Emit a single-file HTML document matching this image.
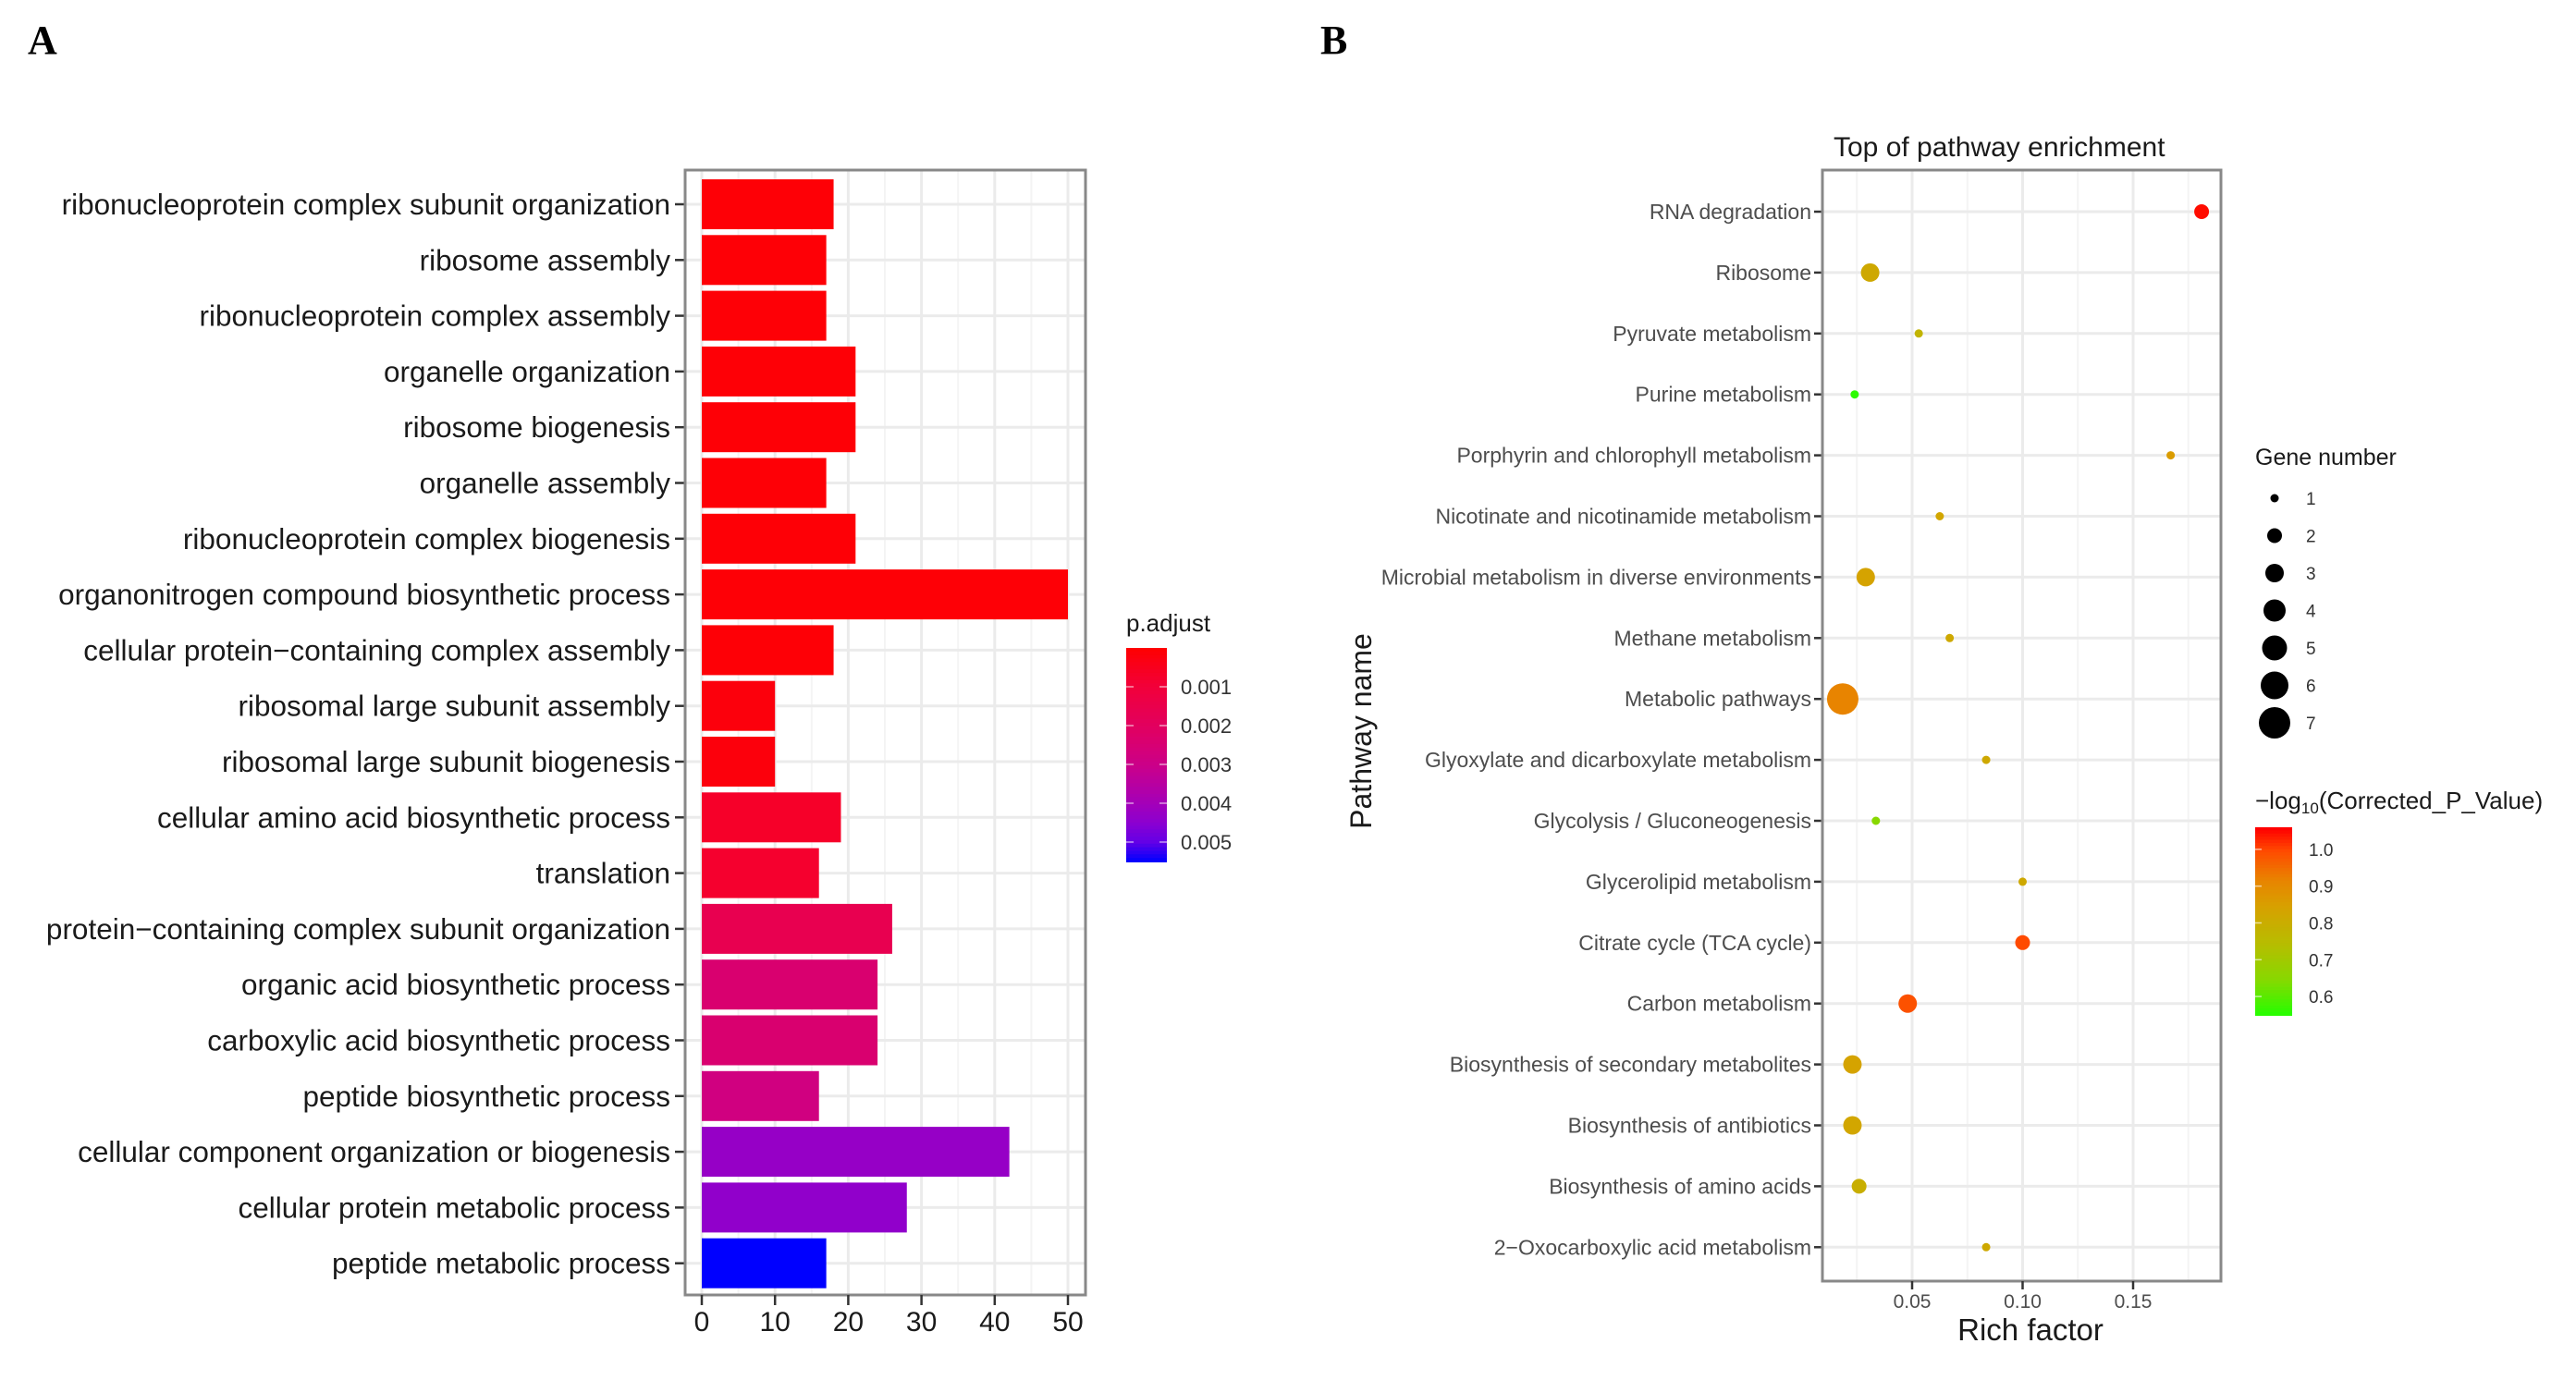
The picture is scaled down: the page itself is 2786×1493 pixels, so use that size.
<!DOCTYPE html>
<html><head><meta charset="utf-8">
<style>
html,body{margin:0;padding:0;background:#fff;}
svg{display:block;font-family:"Liberation Sans",Arial,sans-serif;}
</style></head>
<body>
<svg id="fig" width="2786" height="1493" viewBox="0 0 2786 1493" xmlns="http://www.w3.org/2000/svg">
<rect width="2786" height="1493" fill="#fff"/>
<text x="30" y="58" font-family="Liberation Serif, serif" font-weight="bold" font-size="44">A</text>
<text x="1428" y="58" font-family="Liberation Serif, serif" font-weight="bold" font-size="44">B</text>
<g id="pa"></g>
<g id="pb"></g>
</svg>
<script>
// ---------- Panel A data ----------
const goTerms = ["ribonucleoprotein complex subunit organization","ribosome assembly","ribonucleoprotein complex assembly","organelle organization","ribosome biogenesis","organelle assembly","ribonucleoprotein complex biogenesis","organonitrogen compound biosynthetic process","cellular protein\u2212containing complex assembly","ribosomal large subunit assembly","ribosomal large subunit biogenesis","cellular amino acid biosynthetic process","translation","protein\u2212containing complex subunit organization","organic acid biosynthetic process","carboxylic acid biosynthetic process","peptide biosynthetic process","cellular component organization or biogenesis","cellular protein metabolic process","peptide metabolic process"];
const goCounts = [18,17,17,21,21,17,21,50,18,10,10,19,16,26,24,24,16,42,28,17];
const goPadj = [0.0001,0.0001,0.0001,0.0001,0.0001,0.0001,0.0001,0.0001,0.0001,0.0002,0.0002,0.0007,0.0008,0.0016,0.0024,0.0024,0.0028,0.0043,0.0044,0.0055];
const xTicksA = [0,10,20,30,40,50];
const padjTicks = [0.001,0.002,0.003,0.004,0.005];
const padjTickLabels = ["0.001","0.002","0.003","0.004","0.005"];

// ---------- Panel B data ----------
const pathways = ["RNA degradation","Ribosome","Pyruvate metabolism","Purine metabolism","Porphyrin and chlorophyll metabolism","Nicotinate and nicotinamide metabolism","Microbial metabolism in diverse environments","Methane metabolism","Metabolic pathways","Glyoxylate and dicarboxylate metabolism","Glycolysis / Gluconeogenesis","Glycerolipid metabolism","Citrate cycle (TCA cycle)","Carbon metabolism","Biosynthesis of secondary metabolites","Biosynthesis of antibiotics","Biosynthesis of amino acids","2\u2212Oxocarboxylic acid metabolism"];
const richFactor = [0.181,0.031,0.053,0.024,0.167,0.0625,0.029,0.067,0.0186,0.0835,0.0336,0.1,0.1,0.048,0.023,0.023,0.026,0.0835];
const geneNumber = [2,3,1,1,1,1,3,1,7,1,1,1,2,3,3,3,2,1];
const negLogP = [1.05,0.82,0.78,0.56,0.86,0.83,0.84,0.82,0.92,0.82,0.65,0.82,1.0,0.99,0.84,0.83,0.80,0.82];
const xTicksB = [0.05,0.10,0.15];
const xTickLabelsB = ["0.05","0.10","0.15"];
const geneLegend = [1,2,3,4,5,6,7];
const colorTicks = [1.0,0.9,0.8,0.7,0.6];
const colorTickLabels = ["1.0","0.9","0.8","0.7","0.6"];

const NS="http://www.w3.org/2000/svg";
function mk(tag,attrs,parent,txt){const e=document.createElementNS(NS,tag);for(const k in attrs)e.setAttribute(k,attrs[k]);if(txt!==undefined)e.textContent=txt;parent.appendChild(e);return e;}
function hex(c){return [parseInt(c.slice(1,3),16),parseInt(c.slice(3,5),16),parseInt(c.slice(5,7),16)];}
function interp(stops,v){
  if(v<=stops[0][0])return stops[0][1];
  for(let i=1;i<stops.length;i++){if(v<=stops[i][0]){const t=(v-stops[i-1][0])/(stops[i][0]-stops[i-1][0]);const a=hex(stops[i-1][1]),b=hex(stops[i][1]);return "rgb("+a.map((x,j)=>Math.round(x+(b[j]-x)*t)).join(",")+")";}}
  return stops[stops.length-1][1];
}
const padjStops=[[0,"#ff0000"],[0.001,"#f2003a"],[0.002,"#e2005e"],[0.003,"#cc0088"],[0.004,"#a400b8"],[0.0045,"#8c00d0"],[0.005,"#6400e6"],[0.0055,"#0000ff"]];
const pStops=[[0.55,"#22ff00"],[0.65,"#88d800"],[0.75,"#b8bc00"],[0.85,"#d8a000"],[0.92,"#e88400"],[1.0,"#ff4a00"],[1.06,"#ff0000"]];

// ---------- Panel A ----------
const pa=document.getElementById('pa');
const A={l:741,r:1174,t:184,b:1401,x0:759,x50:1155};
const xA=v=>A.x0+(A.x50-A.x0)*v/50;
const rowA=i=>221+i*60.3;
let e=mk('rect',{x:A.l,y:A.t,width:A.r-A.l,height:A.b-A.t,fill:"#fff"},pa);

for(let v=5;v<=55;v+=10){if(xA(v)<A.r){e=mk('line',{x1:xA(v),x2:xA(v),y1:A.t,y2:A.b,stroke:"#f4f4f4","stroke-width":2},pa);}}
xTicksA.forEach(v=>{e=mk('line',{x1:xA(v),x2:xA(v),y1:A.t,y2:A.b,stroke:"#ebebeb","stroke-width":3},pa);});
goTerms.forEach((t,i)=>{e=mk('line',{x1:A.l,x2:A.r,y1:rowA(i),y2:rowA(i),stroke:"#ebebeb","stroke-width":3},pa);});
goTerms.forEach((t,i)=>{
  const b=mk('rect',{x:xA(0),y:rowA(i)-27,width:xA(goCounts[i])-xA(0),height:54,fill:interp(padjStops,goPadj[i])},pa);
  
  
  const lab=mk('text',{x:725,y:rowA(i)+11,"text-anchor":"end","font-size":31.5,fill:"#1a1a1a"},pa,t);
  
  
  const tk=mk('line',{x1:730,x2:741,y1:rowA(i),y2:rowA(i),stroke:"#333","stroke-width":2.5},pa);
  
  
});
e=mk('rect',{x:A.l,y:A.t,width:A.r-A.l,height:A.b-A.t,fill:"none",stroke:"#888","stroke-width":3},pa);

xTicksA.forEach(v=>{
  const tk=mk('line',{x1:xA(v),x2:xA(v),y1:A.b,y2:A.b+11,stroke:"#333","stroke-width":2.5},pa);
  
  
  const lab=mk('text',{x:xA(v),y:A.b+39,"text-anchor":"middle","font-size":30,fill:"#1a1a1a"},pa,String(v));
  
  
});
// p.adjust legend
const LA={x:1218,w:44,t:701,b:932};
const yLeg=p=>LA.t+(p/0.0055)*(LA.b-LA.t);
e=mk('text',{x:LA.x,y:683,"font-size":26,fill:"#1a1a1a"},pa,"p.adjust");

for(let k=0;k<60;k++){const p0=0.0055*k/60;e=mk('rect',{x:LA.x,y:yLeg(p0),width:LA.w,height:(LA.b-LA.t)/60+1,fill:interp(padjStops,p0+0.0055/120)},pa);}
padjTicks.forEach((p,i)=>{
  e=mk('line',{x1:LA.x,x2:LA.x+8,y1:yLeg(p),y2:yLeg(p),stroke:"#fff","stroke-width":1.5,opacity:0.6},pa);
  e=mk('line',{x1:LA.x+LA.w-8,x2:LA.x+LA.w,y1:yLeg(p),y2:yLeg(p),stroke:"#fff","stroke-width":1.5,opacity:0.6},pa);
  e=mk('text',{x:LA.x+59,y:yLeg(p)+8,"font-size":22,fill:"#333"},pa,padjTickLabels[i]);
});

// ---------- Panel B ----------
const pb=document.getElementById('pb');
const B={l:1971,r:2402,t:184,b:1386};
const xB=v=>2068+(v-0.05)*2390;
const rowB=i=>229+i*65.9;
const rad=n=>[0,4.5,8,10,12,13.5,15,17][n];
e=mk('text',{x:1983,y:169,"font-size":30,fill:"#1a1a1a"},pb,"Top of pathway enrichment");

e=mk('rect',{x:B.l,y:B.t,width:B.r-B.l,height:B.b-B.t,fill:"#fff"},pb);

[0.025,0.075,0.125,0.175].forEach(v=>{e=mk('line',{x1:xB(v),x2:xB(v),y1:B.t,y2:B.b,stroke:"#f4f4f4","stroke-width":2},pb);});
xTicksB.forEach(v=>{e=mk('line',{x1:xB(v),x2:xB(v),y1:B.t,y2:B.b,stroke:"#ebebeb","stroke-width":3},pb);});
pathways.forEach((p,i)=>{e=mk('line',{x1:B.l,x2:B.r,y1:rowB(i),y2:rowB(i),stroke:"#ebebeb","stroke-width":3},pb);});
pathways.forEach((p,i)=>{
  const lab=mk('text',{x:1959,y:rowB(i)+8,"text-anchor":"end","font-size":23,fill:"#4d4d4d"},pb,p);
  
  
  const tk=mk('line',{x1:1962,x2:1971,y1:rowB(i),y2:rowB(i),stroke:"#333","stroke-width":2.5},pb);
  
  
  const c=mk('circle',{cx:xB(richFactor[i]),cy:rowB(i),r:rad(geneNumber[i]),fill:interp(pStops,negLogP[i])},pb);
  
  
});
e=mk('rect',{x:B.l,y:B.t,width:B.r-B.l,height:B.b-B.t,fill:"none",stroke:"#888","stroke-width":3},pb);

xTicksB.forEach((v,i)=>{
  const tk=mk('line',{x1:xB(v),x2:xB(v),y1:B.b,y2:B.b+9,stroke:"#333","stroke-width":2.5},pb);
  
  
  const lab=mk('text',{x:xB(v),y:B.b+29,"text-anchor":"middle","font-size":21,fill:"#4d4d4d"},pb,xTickLabelsB[i]);
  
  
});
e=mk('text',{x:2196,y:1450,"text-anchor":"middle","font-size":33,fill:"#1a1a1a"},pb,"Rich factor");

e=mk('text',{x:0,y:0,"text-anchor":"middle","font-size":32,fill:"#1a1a1a",transform:"translate(1483,791) rotate(-90)"},pb,"Pathway name");

// gene number legend
e=mk('text',{x:2439,y:503,"font-size":25,fill:"#1a1a1a"},pb,"Gene number");

geneLegend.forEach((n,i)=>{
  const y=539+i*40.5;
  const c=mk('circle',{cx:2460,cy:y,r:rad(n),fill:"#000"},pb);
  
  
  const t=mk('text',{x:2494,y:y+7,"font-size":19,fill:"#333"},pb,String(n));
  
  
});
// color legend
const LB={x:2439,w:40,t:895,b:1098};
const yCB=v=>LB.t+(1.06-v)/(1.06-0.55)*(LB.b-LB.t);
const tt=mk('text',{x:2439,y:875,"font-size":26,fill:"#1a1a1a"},pb);


const s1=mk('tspan',{},tt,"\u2212log");
const s2=mk('tspan',{"font-size":17,dy:5},tt,"10");
const s3=mk('tspan',{dy:-5},tt,"(Corrected_P_Value)");
for(let k=0;k<60;k++){const v=1.06-(1.06-0.55)*k/60;e=mk('rect',{x:LB.x,y:yCB(v),width:LB.w,height:(LB.b-LB.t)/60+1,fill:interp(pStops,v)},pb);}
colorTicks.forEach((v,i)=>{
  e=mk('line',{x1:LB.x,x2:LB.x+7,y1:yCB(v),y2:yCB(v),stroke:"#fff","stroke-width":1.5,opacity:0.6},pb);
  e=mk('text',{x:2497,y:yCB(v)+7,"font-size":19,fill:"#333"},pb,colorTickLabels[i]);
});
</script>
</body></html>
